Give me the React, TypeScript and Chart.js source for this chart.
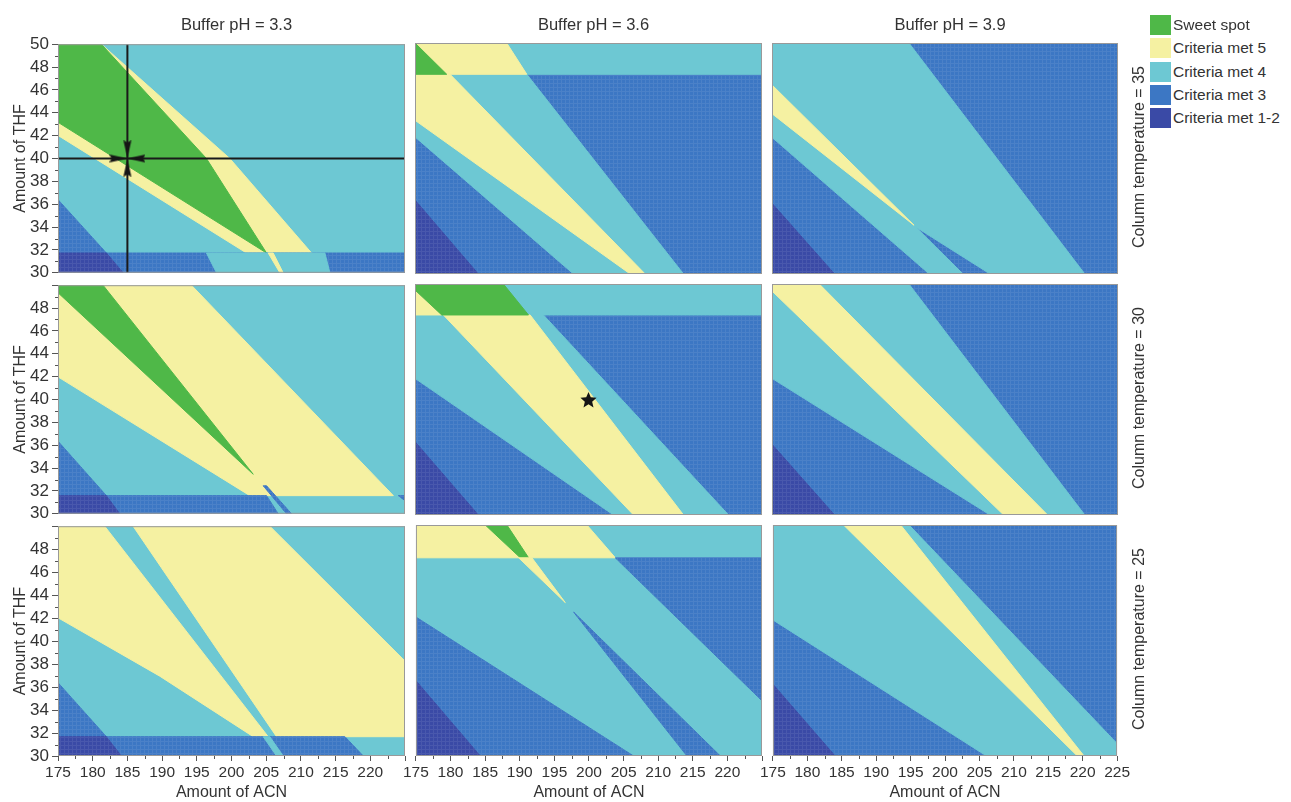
import React, { useEffect, useRef } from 'react';
import { Chart, registerables } from 'chart.js';

Chart.register(...registerables);

const FONT = "'Liberation Sans', Arial, Helvetica, sans-serif";
Chart.defaults.font.family = FONT;
Chart.defaults.color = '#333';

type Pt = [number, number];
type Region = 'sweet' | 'c5' | 'c4' | 'c3' | 'c12';
type Layer = [Region, Pt[]];

// ---------- axes / categories ----------
const ACN_MIN = 175;
const ACN_MAX = 225;
const THF_MIN = 30;
const THF_MAX = 50;
const ACN_TICKS = [175, 180, 185, 190, 195, 200, 205, 210, 215, 220, 225];
const ACN_MINOR_TICKS = [177.5, 182.5, 187.5, 192.5, 197.5, 202.5, 207.5, 212.5, 217.5, 222.5];
const THF_TICKS = [30, 32, 34, 36, 38, 40, 42, 44, 46, 48, 50];
const THF_MINOR_TICKS = [31, 33, 35, 37, 39, 41, 43, 45, 47, 49];
const BUFFER_PH = ['3.3', '3.6', '3.9'];
const COLUMN_TEMPERATURE = ['35', '30', '25'];
const LEGEND_REGIONS: Region[] = ['sweet', 'c5', 'c4', 'c3', 'c12'];
const LEGEND_LABELS = ['Sweet spot', 'Criteria met 5', 'Criteria met 4', 'Criteria met 3', 'Criteria met 1-2'];

// ---------- region polygons (ACN, THF) ----------
// pH 3.3, 35 °C
const PH33_T35_C5: Pt[] = [[175, 50], [181.25, 50], [199.76, 40], [211.54, 31.73], [202.16, 31.73], [175, 42.02]];
const PH33_T35_SWEET: Pt[] = [[175, 50], [181.25, 50], [196.39, 40], [205.05, 31.73], [175, 43.17]];
const PH33_T35_C3_CORNER: Pt[] = [[175, 36.4], [181.97, 31.73], [175, 31.73]];
const PH33_T35_C3_BAND: Pt[] = [[175, 31.73], [225, 31.73], [225, 30], [175, 30]];
const PH33_T35_C4_BAND: Pt[] = [[196.39, 31.73], [213.46, 31.73], [214.18, 30], [197.84, 30]];
const PH33_T35_C5_BAND: Pt[] = [[205.29, 31.73], [206.01, 31.73], [207.45, 30], [206.97, 30]];
const PH33_T35_C12_BAND: Pt[] = [[175, 31.73], [181.97, 31.73], [184.38, 30], [175, 30]];
const PH33_T35_CROSSHAIR: Pt = [185, 40];

// pH 3.6, 35 °C
const PH36_T35_C4: Pt[] = [[175, 50], [225, 50], [225, 47.29], [191.11, 47.29], [213.7, 30], [197.84, 30], [175, 41.87]];
const PH36_T35_C12: Pt[] = [[175, 36.4], [184.13, 30], [175, 30]];
const PH36_T35_C5_TOP: Pt[] = [[175, 50], [188.22, 50], [191.11, 47.29], [175, 47.29]];
const PH36_T35_C5: Pt[] = [[175, 47.29], [180.05, 47.29], [208.17, 30], [206.01, 30], [175, 43.31]];
const PH36_T35_SWEET: Pt[] = [[175, 50], [179.57, 47.29], [175, 47.29]];

// pH 3.9, 35 °C
const PH39_T35_C4: Pt[] = [[175, 50], [194.79, 50], [220.21, 30], [206.52, 30], [195.77, 34.07], [202.61, 30], [197.73, 30], [175, 41.83]];
const PH39_T35_C5: Pt[] = [[175, 46.37], [195.53, 34.22], [175, 43.88]];
const PH39_T35_C12: Pt[] = [[175, 36.12], [184.04, 30], [175, 30]];

// pH 3.3, 30 °C
const PH33_T30_C5: Pt[] = [[175, 50], [194.23, 50], [223.32, 31.59], [202.64, 31.59], [175, 41.98]];
const PH33_T30_SWEET: Pt[] = [[175, 50], [181.49, 50], [203.13, 33.46], [175, 49.34]];
const PH33_T30_C3_CORNER: Pt[] = [[175, 36.35], [181.97, 31.59], [175, 31.59]];
const PH33_T30_C3_BAND: Pt[] = [[175, 31.59], [205.05, 31.59], [206.73, 30], [175, 30]];
const PH33_T30_C12_BAND: Pt[] = [[175, 31.59], [181.97, 31.59], [183.89, 30], [175, 30]];
const PH33_T30_C3_STREAK: Pt[] = [[204.57, 32.45], [205.05, 32.45], [208.65, 30], [207.93, 30]];
const PH33_T30_C3_NOTCH: Pt[] = [[224.04, 31.59], [225, 31.59], [225, 31.15]];

// pH 3.6, 30 °C
const PH36_T30_C4: Pt[] = [[175, 50], [225, 50], [225, 47.32], [193.51, 47.32], [220.19, 30], [203.61, 30], [175, 41.83]];
const PH36_T30_C5: Pt[] = [[179.09, 47.32], [191.59, 47.32], [213.7, 30], [206.49, 30]];
const PH36_T30_C5_CORNER: Pt[] = [[175, 49.48], [178.85, 47.32], [175, 47.32]];
const PH36_T30_SWEET: Pt[] = [[175, 50], [187.74, 50], [191.35, 47.32], [178.85, 47.32], [175, 49.48]];
const PH36_T30_C12: Pt[] = [[175, 36.35], [184.13, 30], [175, 30]];
const PH36_T30_OPTIMUM: Pt = [200, 40];

// pH 3.9, 30 °C
const PH39_T30_C4: Pt[] = [[175, 50], [194.79, 50], [220.21, 30], [206.52, 30], [175, 41.83]];
const PH39_T30_C5: Pt[] = [[175, 50], [181.84, 50], [214.83, 30], [208.48, 30], [175, 49.39]];
const PH39_T30_C12: Pt[] = [[175, 36.12], [184.04, 30], [175, 30]];

// pH 3.3, 25 °C
const PH33_T25_C5_LEFT: Pt[] = [[175, 50], [181.73, 50], [205.29, 31.68], [203.13, 31.68], [189.66, 36.95], [175, 42.03]];
const PH33_T25_C5_RIGHT: Pt[] = [[185.82, 50], [205.53, 50], [225, 38.26], [225, 31.68], [206.49, 31.68]];
const PH33_T25_C3_CORNER: Pt[] = [[175, 36.38], [181.97, 31.68], [175, 31.68]];
const PH33_T25_C3_BAND: Pt[] = [[181.97, 31.68], [216.35, 31.68], [218.99, 30], [184.13, 30]];
const PH33_T25_C12_BAND: Pt[] = [[175, 31.68], [181.97, 31.68], [184.13, 30], [175, 30]];
const PH33_T25_C4_BAND: Pt[] = [[204.57, 31.68], [205.53, 31.68], [207.45, 30], [206.49, 30]];

// pH 3.6, 25 °C
const PH36_T25_C5_TOP: Pt[] = [[175, 50], [199.71, 50], [203.81, 47.16], [175, 47.16]];
const PH36_T25_SWEET: Pt[] = [[185.02, 50], [188.15, 50], [191.28, 47.16], [190.08, 47.16]];
const PH36_T25_C5_WEDGE: Pt[] = [[189.84, 47.16], [191.76, 47.16], [196.58, 43.28]];
const PH36_T25_C3_RIGHT: Pt[] = [[203.81, 47.16], [225, 47.16], [225, 34.78]];
const PH36_T25_C3_SLIVER: Pt[] = [[197.78, 42.46], [218.98, 30], [214.16, 30]];
const PH36_T25_C3_LOWER: Pt[] = [[175, 42.03], [206.45, 30], [175, 30]];
const PH36_T25_C12: Pt[] = [[175, 36.52], [184.3, 30], [175, 30]];

// pH 3.9, 25 °C
const PH39_T25_C4: Pt[] = [[175, 50], [194.79, 50], [225, 31.08], [225, 30], [206.04, 30], [175, 41.78]];
const PH39_T25_C5: Pt[] = [[185.26, 50], [193.57, 50], [220.21, 30], [219.23, 30]];
const PH39_T25_C12: Pt[] = [[175, 36.21], [184.04, 30], [175, 30]];

// panel composition (row = temperature, col = pH); layers bottom -> top
const PANEL_BACKGROUND: Region[][] = [
  ['c4', 'c3', 'c3'],
  ['c4', 'c3', 'c3'],
  ['c4', 'c4', 'c3'],
];
const PANEL_LAYERS: Layer[][][] = [
  [
    [['c5', PH33_T35_C5], ['sweet', PH33_T35_SWEET], ['c3', PH33_T35_C3_CORNER], ['c3', PH33_T35_C3_BAND], ['c4', PH33_T35_C4_BAND], ['c5', PH33_T35_C5_BAND], ['c12', PH33_T35_C12_BAND]],
    [['c4', PH36_T35_C4], ['c12', PH36_T35_C12], ['c5', PH36_T35_C5_TOP], ['c5', PH36_T35_C5], ['sweet', PH36_T35_SWEET]],
    [['c4', PH39_T35_C4], ['c5', PH39_T35_C5], ['c12', PH39_T35_C12]],
  ],
  [
    [['c5', PH33_T30_C5], ['sweet', PH33_T30_SWEET], ['c3', PH33_T30_C3_CORNER], ['c3', PH33_T30_C3_BAND], ['c12', PH33_T30_C12_BAND], ['c3', PH33_T30_C3_STREAK], ['c3', PH33_T30_C3_NOTCH]],
    [['c4', PH36_T30_C4], ['c5', PH36_T30_C5], ['c5', PH36_T30_C5_CORNER], ['sweet', PH36_T30_SWEET], ['c12', PH36_T30_C12]],
    [['c4', PH39_T30_C4], ['c5', PH39_T30_C5], ['c12', PH39_T30_C12]],
  ],
  [
    [['c5', PH33_T25_C5_LEFT], ['c5', PH33_T25_C5_RIGHT], ['c3', PH33_T25_C3_CORNER], ['c3', PH33_T25_C3_BAND], ['c12', PH33_T25_C12_BAND], ['c4', PH33_T25_C4_BAND]],
    [['c5', PH36_T25_C5_TOP], ['sweet', PH36_T25_SWEET], ['c5', PH36_T25_C5_WEDGE], ['c3', PH36_T25_C3_RIGHT], ['c3', PH36_T25_C3_SLIVER], ['c3', PH36_T25_C3_LOWER], ['c12', PH36_T25_C12]],
    [['c4', PH39_T25_C4], ['c5', PH39_T25_C5], ['c12', PH39_T25_C12]],
  ],
];
const CROSSHAIRS: (Pt | null)[][] = [[PH33_T35_CROSSHAIR, null, null], [null, null, null], [null, null, null]];
const OPTIMA: (Pt | null)[][] = [[null, null, null], [null, PH36_T30_OPTIMUM, null], [null, null, null]];

// ---------- styles / layout ----------
const REGION_COLOR: Record<Region, string> = {
  sweet: '#4fb848',
  c5: '#f5f1a2',
  c4: '#6dc8d3',
  c3: '#3c77c4',
  c12: '#3a4aa6',
};
const TEXT_COLOR = '#333333';
const TICK_COLOR = '#555555';
const FRAME_COLOR = '#999999';
const PANEL_LEFT = [58, 415, 772];
const PANEL_WIDTH = [347, 347, 346];
const PANEL_TOP = [43, 284, 525];
const PANEL_HEIGHT = 231;
const Y_AXIS_W = 58;
const X_AXIS_H = 46;
const SIDE_PAD = 14;
const TOP_PAD = 12;
const BOTTOM_PAD = 12;
const ARROW_GAP_X = 1.3; // ACN units from crosshair centre
const ARROW_GAP_Y = 0.8; // THF units from crosshair centre

function makePattern(base: string): CanvasPattern | string {
  const c = document.createElement('canvas');
  c.width = 4;
  c.height = 4;
  const g = c.getContext('2d');
  if (!g) return base;
  g.fillStyle = base;
  g.fillRect(0, 0, 4, 4);
  g.fillStyle = 'rgba(255,255,255,0.08)';
  g.fillRect(0, 0, 4, 1);
  g.fillRect(0, 1, 1, 3);
  return g.createPattern(c, 'repeat') || base;
}

function makeStar(size: number): HTMLCanvasElement {
  const c = document.createElement('canvas');
  c.width = size;
  c.height = size;
  const g = c.getContext('2d')!;
  g.fillStyle = '#151515';
  g.beginPath();
  for (let i = 0; i < 10; i++) {
    const r = i % 2 === 0 ? size / 2 : size / 4.4;
    const a = -Math.PI / 2 + (i * Math.PI) / 5;
    const px = size / 2 + r * Math.cos(a);
    const py = size / 2 + 1 + r * Math.sin(a);
    if (i === 0) g.moveTo(px, py);
    else g.lineTo(px, py);
  }
  g.closePath();
  g.fill();
  return c;
}

function makeArrow(): HTMLCanvasElement {
  const c = document.createElement('canvas');
  c.width = 18;
  c.height = 10;
  const g = c.getContext('2d')!;
  g.fillStyle = '#151515';
  g.beginPath();
  g.moveTo(0, 1);
  g.lineTo(18, 5);
  g.lineTo(0, 9);
  g.lineTo(2, 5);
  g.closePath();
  g.fill();
  return c;
}

function polygonDataset(points: Pt[], color: any, order: number) {
  const data = points.map(([x, y]) => ({ x, y }));
  data.push({ x: points[0][0], y: points[0][1] });
  return {
    type: 'line',
    data,
    showLine: true,
    fill: 'shape',
    backgroundColor: color,
    borderColor: color,
    borderWidth: 1,
    borderJoinStyle: 'round',
    pointRadius: 0,
    pointHoverRadius: 0,
    pointHitRadius: 0,
    tension: 0,
    clip: 0,
    order,
  };
}

function Panel({ row, col }: { row: number; col: number }) {
  const ref = useRef<HTMLCanvasElement>(null);
  const showY = col === 0;
  const showX = row === 2;
  const padL = showY ? 0 : SIDE_PAD;
  const axisW = showY ? Y_AXIS_W : 0;
  const axisH = showX ? X_AXIS_H : 0;
  const padB = showX ? 0 : BOTTOM_PAD;
  const left = PANEL_LEFT[col] - axisW - padL;
  const top = PANEL_TOP[row] - TOP_PAD;
  const width = padL + axisW + PANEL_WIDTH[col] + SIDE_PAD;
  const height = TOP_PAD + PANEL_HEIGHT + axisH + padB;

  useEffect(() => {
    const canvas = ref.current;
    if (!canvas) return;
    const fills: Record<Region, any> = {
      sweet: REGION_COLOR.sweet,
      c5: REGION_COLOR.c5,
      c4: REGION_COLOR.c4,
      c3: makePattern(REGION_COLOR.c3),
      c12: makePattern(REGION_COLOR.c12),
    };
    const fullRange: Pt[] = [[ACN_MIN, THF_MIN], [ACN_MAX, THF_MIN], [ACN_MAX, THF_MAX], [ACN_MIN, THF_MAX]];
    const layers: Layer[] = [[PANEL_BACKGROUND[row][col], fullRange], ...PANEL_LAYERS[row][col]];
    const n = layers.length;
    const datasets: any[] = layers.map(([region, pts], i) => polygonDataset(pts, fills[region], 10 + n - i));

    const cross = CROSSHAIRS[row][col];
    if (cross) {
      const [cx, cy] = cross;
      const lineStyle = { type: 'line', fill: false, borderColor: '#1a1a1a', borderWidth: 2, pointRadius: 0, pointHitRadius: 0, tension: 0, clip: 0, order: 2 };
      datasets.push({ ...lineStyle, data: [{ x: cx, y: THF_MIN }, { x: cx, y: THF_MAX }] });
      datasets.push({ ...lineStyle, data: [{ x: ACN_MIN, y: cy }, { x: ACN_MAX, y: cy }] });
      datasets.push({
        type: 'line',
        showLine: false,
        data: [
          { x: cx - ARROW_GAP_X, y: cy },
          { x: cx + ARROW_GAP_X, y: cy },
          { x: cx, y: cy + ARROW_GAP_Y },
          { x: cx, y: cy - ARROW_GAP_Y },
        ],
        pointStyle: makeArrow(),
        pointRadius: 5,
        pointRotation: [0, 180, 90, 270],
        pointHitRadius: 0,
        clip: 0,
        order: 1,
      });
    }
    const opt = OPTIMA[row][col];
    if (opt) {
      datasets.push({
        type: 'line',
        showLine: false,
        data: [{ x: opt[0], y: opt[1] }],
        pointStyle: makeStar(17),
        pointRadius: 6,
        pointHitRadius: 0,
        clip: 0,
        order: 1,
      });
    }

    const decor = {
      id: 'panelDecor',
      afterDatasetsDraw(chart: any) {
        const { ctx, chartArea: a } = chart;
        ctx.save();
        ctx.strokeStyle = FRAME_COLOR;
        ctx.lineWidth = 1;
        ctx.strokeRect(a.left + 0.5, a.top + 0.5, a.right - a.left - 1, a.bottom - a.top - 1);
        ctx.restore();
      },
      afterDraw(chart: any) {
        const { ctx, chartArea: a, scales } = chart;
        ctx.save();
        ctx.strokeStyle = TICK_COLOR;
        ctx.lineWidth = 1;
        ctx.beginPath();
        if (showX) {
          for (const v of ACN_MINOR_TICKS) {
            const px = Math.round(scales.x.getPixelForValue(v)) + 0.5;
            ctx.moveTo(px, a.bottom);
            ctx.lineTo(px, a.bottom + 3);
          }
        }
        if (showY) {
          for (const v of THF_MINOR_TICKS) {
            const py = Math.round(scales.y.getPixelForValue(v)) + 0.5;
            ctx.moveTo(a.left - 3, py);
            ctx.lineTo(a.left, py);
          }
        }
        ctx.stroke();
        ctx.restore();
      },
    };

    const chart = new Chart(canvas, {
      type: 'line',
      data: { datasets },
      options: {
        responsive: false,
        maintainAspectRatio: false,
        animation: false,
        events: [],
        devicePixelRatio: 1,
        layout: { padding: { left: padL, right: SIDE_PAD, top: TOP_PAD, bottom: padB } },
        plugins: { legend: { display: false }, tooltip: { enabled: false }, title: { display: false } },
        scales: {
          x: {
            type: 'linear',
            min: ACN_MIN,
            max: ACN_MAX,
            display: showX,
            position: 'bottom',
            afterBuildTicks: (s: any) => {
              s.ticks = ACN_TICKS.map((v) => ({ value: v }));
            },
            afterFit: (s: any) => {
              s.height = showX ? X_AXIS_H : 0;
            },
            grid: { drawOnChartArea: false, drawTicks: true, tickLength: 5, tickColor: TICK_COLOR, tickWidth: 1 },
            border: { display: false },
            ticks: {
              autoSkip: false,
              maxRotation: 0,
              minRotation: 0,
              padding: 2,
              color: TEXT_COLOR,
              font: { size: 15.5 },
              callback: (v: any) => (col < 2 && v === ACN_MAX ? '' : String(v)),
            },
            title: { display: true, text: 'Amount of ACN', color: TEXT_COLOR, font: { size: 16 }, padding: { top: 0, bottom: 0 } },
          },
          y: {
            type: 'linear',
            min: THF_MIN,
            max: THF_MAX,
            display: showY,
            position: 'left',
            afterBuildTicks: (s: any) => {
              s.ticks = THF_TICKS.map((v) => ({ value: v }));
            },
            afterFit: (s: any) => {
              s.width = showY ? Y_AXIS_W : 0;
            },
            grid: { drawOnChartArea: false, drawTicks: true, tickLength: 6, tickColor: TICK_COLOR, tickWidth: 1 },
            border: { display: false },
            ticks: {
              autoSkip: false,
              padding: 3,
              color: TEXT_COLOR,
              font: { size: 17 },
              callback: (v: any) => (row > 0 && v === THF_MAX ? '' : String(v)),
            },
            title: { display: true, text: 'Amount of THF', color: TEXT_COLOR, font: { size: 16 }, padding: { top: 11, bottom: 0 } },
          },
        },
      } as any,
      plugins: [decor],
    } as any);
    return () => chart.destroy();
  }, [row, col]);

  return (
    <canvas
      ref={ref}
      width={width}
      height={height}
      style={{ position: 'absolute', left, top, width, height }}
    />
  );
}

export default function App() {
  const panels: React.ReactNode[] = [];
  for (let r = 0; r < 3; r++) {
    for (let c = 0; c < 3; c++) {
      panels.push(<Panel key={`p${r}${c}`} row={r} col={c} />);
    }
  }
  const textBase: React.CSSProperties = { position: 'absolute', fontFamily: FONT, color: TEXT_COLOR, whiteSpace: 'nowrap' };
  return (
    <div style={{ position: 'absolute', left: 0, top: 0, width: 1291, height: 802, overflow: 'hidden', background: '#ffffff' }}>
      {panels}
      {BUFFER_PH.map((ph, c) => (
        <div
          key={`t${c}`}
          style={{ ...textBase, left: PANEL_LEFT[c] + PANEL_WIDTH[c] / 2 + 5 - 100, top: 14, width: 200, textAlign: 'center', fontSize: 16.5, lineHeight: '20px' }}
        >
          {`Buffer pH = ${ph}`}
        </div>
      ))}
      {COLUMN_TEMPERATURE.map((t, r) => (
        <div
          key={`r${r}`}
          style={{
            ...textBase,
            left: 1139 - 120,
            top: PANEL_TOP[r] + PANEL_HEIGHT / 2 - 2 - 10,
            width: 240,
            height: 20,
            textAlign: 'center',
            fontSize: 16,
            lineHeight: '20px',
            transform: 'rotate(-90deg)',
          }}
        >
          {`Column temperature = ${t}`}
        </div>
      ))}
      {LEGEND_LABELS.map((label, i) => (
        <div key={`l${i}`} style={{ position: 'absolute', left: 1150, top: 15 + i * 23.3, height: 20, display: 'flex', alignItems: 'center' }}>
          <div style={{ width: 21, height: 20, background: REGION_COLOR[LEGEND_REGIONS[i]] }} />
          <span style={{ marginLeft: 2, fontFamily: FONT, fontSize: 15.5, lineHeight: '20px', color: TEXT_COLOR, whiteSpace: 'nowrap' }}>{label}</span>
        </div>
      ))}
    </div>
  );
}
